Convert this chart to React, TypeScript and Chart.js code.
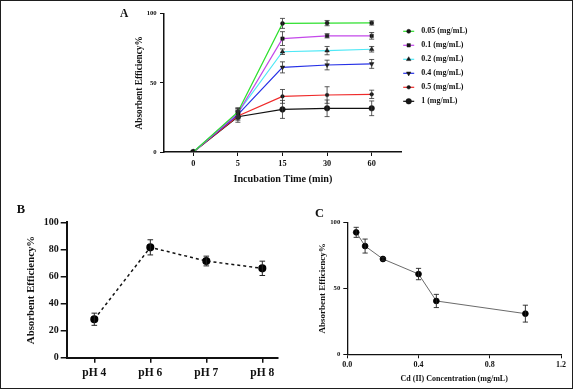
import { useEffect, useRef } from "react";
import { Chart, registerables } from "chart.js";
import { drawPoint } from "chart.js/helpers";

Chart.register(...registerables);

const FONT = "'Liberation Serif', 'Times New Roman', serif";
const PAGE_W = 573;
const PAGE_H = 392;
const INK = "#111111";

// ---------- Panel A : incubation time ----------
const A_TIMES = ["0", "5", "15", "30", "60"];
const A_Y_TICKS = [0, 50, 100];
const A_NAMES = ["0.05 (mg/mL)", "0.1 (mg/mL)", "0.2 (mg/mL)", "0.4 (mg/mL)", "0.5 (mg/mL)", "1 (mg/mL)"];
const A_COLORS = ["#2fe02f", "#c449ea", "#4ee8f6", "#2631e6", "#ef2a2a", "#111111"];
const A_005 = [0, 29, 93, 93.2, 93.3];
const A_01 = [0, 28, 82, 84, 84];
const A_02 = [0, 28.5, 72.5, 73.3, 74.3];
const A_04 = [0, 27, 61.2, 62.9, 63.7];
const A_05 = [0, 26, 40.2, 41.2, 41.7];
const A_1 = [0, 25.5, 30.8, 31.6, 31.6];
const A_005_ERR = [0, 3, 3.6, 1.9, 1.5];
const A_01_ERR = [0, 3, 5, 1.5, 2.4];
const A_02_ERR = [0, 3, 2, 3, 2];
const A_04_ERR = [0, 3, 4, 3.5, 3.2];
const A_05_ERR = [0, 3, 5, 6, 3];
const A_1_ERR = [0, 4, 6.5, 6, 5.3];

// ---------- Panel B : pH ----------
const B_PH = ["pH 4", "pH 6", "pH 7", "pH 8"];
const B_Y_TICKS = [0, 20, 40, 60, 80, 100];
const B_VALUES = [28.4, 81.5, 71.4, 66];
const B_ERR = [4.5, 5.6, 3.6, 5.3];

// ---------- Panel C : Cd(II) concentration ----------
const C_CONC = [0.05, 0.1, 0.2, 0.4, 0.5, 1.0];
const C_VALUES = [92.4, 82, 72.2, 60.8, 40.4, 30.8];
const C_ERR = [3.8, 5.3, 1, 4.3, 5, 6.4];
const C_X_TICKS = [0, 0.4, 0.8, 1.2];
const C_Y_TICKS = [0, 50, 100];

const bold = (size: number) => ({ family: FONT, size, weight: "bold" as const });
const fixedTicks = (values: number[]) => (scale: any) => {
  scale.ticks = values.map((v) => ({ value: v }));
};

const errorBarsPlugin = {
  id: "errorBars",
  afterDatasetsDraw(chart: any) {
    const ctx = chart.ctx;
    const yScale = chart.scales.y;
    chart.data.datasets.forEach((ds: any, di: number) => {
      const errs: number[] | undefined = ds.errors;
      if (!errs) return;
      const meta = chart.getDatasetMeta(di);
      ctx.save();
      ctx.strokeStyle = ds.errorColor || "#222";
      ctx.lineWidth = ds.errorWidth || 0.8;
      meta.data.forEach((pt: any, i: number) => {
        const e = errs[i];
        if (!e) return;
        const v = ds.data[i].y;
        const x = pt.x;
        const y1 = yScale.getPixelForValue(v + e);
        const y2 = yScale.getPixelForValue(v - e);
        const c = ds.capHalf || 3;
        ctx.beginPath();
        ctx.moveTo(x, y1);
        ctx.lineTo(x, y2);
        ctx.moveTo(x - c, y1);
        ctx.lineTo(x + c, y1);
        ctx.moveTo(x - c, y2);
        ctx.lineTo(x + c, y2);
        ctx.stroke();
      });
      ctx.restore();
    });
  },
};

const sideLegendPlugin = {
  id: "sideLegend",
  afterDraw(chart: any, _args: any, opts: any) {
    if (!opts || !opts.display) return;
    const { ctx, chartArea } = chart;
    ctx.save();
    chart.data.datasets.forEach((ds: any, i: number) => {
      const y = chartArea.top + opts.top + i * opts.spacing;
      const x0 = chartArea.right + opts.left;
      ctx.strokeStyle = ds.borderColor;
      ctx.lineWidth = 1.2;
      ctx.beginPath();
      ctx.moveTo(x0, y);
      ctx.lineTo(x0 + opts.lineLen, y);
      ctx.stroke();
      ctx.fillStyle = ds.pointBackgroundColor;
      ctx.strokeStyle = ds.pointBorderColor;
      ctx.lineWidth = ds.pointBorderWidth || 0.5;
      drawPoint(ctx, { pointStyle: ds.pointStyle, radius: ds.pointRadius, rotation: ds.pointRotation || 0, borderWidth: ds.pointBorderWidth || 0.5 } as any, x0 + opts.lineLen / 2, y);
      ctx.fillStyle = INK;
      ctx.font = `bold ${opts.fontSize}px ${FONT}`;
      ctx.textBaseline = "middle";
      ctx.textAlign = "left";
      ctx.fillText(ds.label, x0 + opts.lineLen + opts.gap, y);
    });
    ctx.restore();
  },
};

const panelLabelPlugin = {
  id: "panelLabel",
  afterDraw(chart: any, _args: any, opts: any) {
    if (!opts || !opts.text) return;
    const ctx = chart.ctx;
    ctx.save();
    ctx.fillStyle = INK;
    ctx.font = `bold ${opts.size}px ${FONT}`;
    ctx.textBaseline = "alphabetic";
    ctx.textAlign = "left";
    ctx.fillText(opts.text, opts.x, opts.y);
    ctx.restore();
  },
};

const PLUGINS = [errorBarsPlugin, sideLegendPlugin, panelLabelPlugin];

function configA(): any {
  const series = [A_005, A_01, A_02, A_04, A_05, A_1];
  const errs = [A_005_ERR, A_01_ERR, A_02_ERR, A_04_ERR, A_05_ERR, A_1_ERR];
  const styles = [
    { s: "circle", r: 2, rot: 0 },
    { s: "rect", r: 2.4, rot: 0 },
    { s: "triangle", r: 2.6, rot: 0 },
    { s: "triangle", r: 2.6, rot: 180 },
    { s: "circle", r: 1.8, rot: 0 },
    { s: "circle", r: 2.8, rot: 0 },
  ];
  return {
    type: "line",
    data: {
      datasets: series.map((vals, s) => ({
        label: A_NAMES[s],
        data: vals.map((y, i) => ({ x: i, y })),
        errors: errs[s],
        capHalf: 2.5,
        errorColor: "#333",
        errorWidth: 0.8,
        borderColor: A_COLORS[s],
        backgroundColor: A_COLORS[s],
        borderWidth: 1.2,
        tension: 0,
        pointStyle: styles[s].s,
        pointRadius: styles[s].r,
        pointRotation: styles[s].rot,
        pointBackgroundColor: "#151515",
        pointBorderColor: "#151515",
        pointBorderWidth: 0.5,
      })),
    },
    options: {
      responsive: false,
      animation: false,
      events: [],
      layout: { padding: { left: 124, right: PAGE_W - 401.7, top: 13.7, bottom: PAGE_H - 152 - 36 } },
      plugins: {
        legend: { display: false },
        tooltip: { enabled: false },
        sideLegend: { display: true, top: 17.6, spacing: 14, left: 1.5, lineLen: 11, gap: 7, fontSize: 8 },
        panelLabel: { text: "A", x: 120, y: 17, size: 11.5 },
      },
      scales: {
        x: {
          type: "linear",
          min: -0.657,
          max: 4.673,
          afterBuildTicks: fixedTicks(A_TIMES.map((_, i) => i)),
          afterFit: (s: any) => {
            s.height = 36;
          },
          ticks: { callback: (v: any) => A_TIMES[v], font: bold(8.3), color: INK, padding: 2.4, maxRotation: 0, autoSkip: false },
          grid: { drawOnChartArea: false, drawTicks: true, tickLength: 4, color: INK, lineWidth: 1 },
          border: { display: true, color: INK, width: 1.5 },
          title: { display: true, text: "Incubation Time (min)", font: bold(10.2), color: INK, padding: { top: 0, bottom: 2.2 } },
        },
        y: {
          min: 0,
          max: 100,
          afterBuildTicks: fixedTicks(A_Y_TICKS),
          afterFit: (s: any) => {
            s.width = 40;
          },
          ticks: { font: bold(6.7), color: INK, padding: 3.3 },
          grid: { drawOnChartArea: false, drawTicks: true, tickLength: 4, color: INK, lineWidth: 1 },
          border: { display: true, color: INK, width: 1.5 },
          title: { display: true, text: "Absorbent Efficiency%", font: bold(9.3), color: INK, padding: { top: 10.4, bottom: 0 } },
        },
      },
    },
    plugins: PLUGINS,
  };
}

function configB(): any {
  return {
    type: "line",
    data: {
      datasets: [
        {
          label: "pH",
          data: B_VALUES.map((y, i) => ({ x: i, y })),
          errors: B_ERR,
          capHalf: 2.8,
          errorColor: "#222",
          errorWidth: 1,
          borderColor: INK,
          borderWidth: 1.5,
          borderDash: [3, 3],
          tension: 0,
          pointStyle: "circle",
          pointRadius: 3.3,
          pointBackgroundColor: "#000",
          pointBorderColor: "#000",
        },
      ],
    },
    options: {
      responsive: false,
      animation: false,
      events: [],
      layout: { padding: { left: 16.7, right: PAGE_W - 278, top: 222.3, bottom: PAGE_H - 357.7 - 30 } },
      plugins: {
        legend: { display: false },
        tooltip: { enabled: false },
        panelLabel: { text: "B", x: 16.7, y: 213.3, size: 12.5 },
      },
      scales: {
        x: {
          type: "linear",
          min: -0.493,
          max: 3.28,
          afterBuildTicks: fixedTicks(B_PH.map((_, i) => i)),
          afterFit: (s: any) => {
            s.height = 30;
          },
          ticks: { callback: (v: any) => B_PH[v], font: bold(11.5), color: INK, padding: 3, maxRotation: 0, autoSkip: false },
          grid: { drawOnChartArea: false, drawTicks: true, tickLength: 5, color: INK, lineWidth: 1.5 },
          border: { display: true, color: INK, width: 2 },
        },
        y: {
          min: 0,
          max: 100,
          afterBuildTicks: fixedTicks(B_Y_TICKS),
          afterFit: (s: any) => {
            s.width = 50;
          },
          ticks: { font: bold(10), color: INK, padding: 2 },
          grid: { drawOnChartArea: false, drawTicks: true, tickLength: 6, color: INK, lineWidth: 1.5 },
          border: { display: true, color: INK, width: 2 },
          title: { display: true, text: "Absorbent Efficiency%", font: bold(10.8), color: INK, padding: { top: 8.5, bottom: 0 } },
        },
      },
    },
    plugins: PLUGINS,
  };
}

function configC(): any {
  return {
    type: "line",
    data: {
      datasets: [
        {
          label: "Cd",
          data: C_CONC.map((x, i) => ({ x, y: C_VALUES[i] })),
          errors: C_ERR,
          capHalf: 2.6,
          errorColor: "#222",
          errorWidth: 0.9,
          borderColor: "#444",
          borderWidth: 0.8,
          tension: 0,
          pointStyle: "circle",
          pointRadius: 2.9,
          pointBackgroundColor: "#000",
          pointBorderColor: "#000",
        },
      ],
    },
    options: {
      responsive: false,
      animation: false,
      events: [],
      layout: { padding: { left: 317.3, right: PAGE_W - 561, top: 222.3, bottom: PAGE_H - 354.3 - 30 } },
      plugins: {
        legend: { display: false },
        tooltip: { enabled: false },
        panelLabel: { text: "C", x: 315, y: 217.3, size: 12.5 },
      },
      scales: {
        x: {
          type: "linear",
          min: 0,
          max: 1.2,
          afterBuildTicks: fixedTicks(C_X_TICKS),
          afterFit: (s: any) => {
            s.height = 30;
          },
          ticks: { callback: (v: any) => Number(v).toFixed(1), font: bold(8), color: INK, padding: 1.6, maxRotation: 0, autoSkip: false },
          grid: { drawOnChartArea: false, drawTicks: true, tickLength: 4, color: INK, lineWidth: 1 },
          border: { display: true, color: INK, width: 1.3 },
          title: { display: true, text: "Cd (II) Concentration (mg/mL)", font: bold(8), color: INK, padding: { top: 0, bottom: 0.5 } },
        },
        y: {
          min: 0,
          max: 100,
          afterBuildTicks: fixedTicks(C_Y_TICKS),
          afterFit: (s: any) => {
            s.width = 30;
          },
          ticks: { font: bold(6.7), color: INK, padding: 3 },
          grid: { drawOnChartArea: false, drawTicks: true, tickLength: 4, color: INK, lineWidth: 1 },
          border: { display: true, color: INK, width: 1.3 },
          title: { display: true, text: "Absorbent Efficiency%", font: bold(9), color: INK, padding: { top: 0.3, bottom: 0 } },
        },
      },
    },
    plugins: PLUGINS,
  };
}

export default function App() {
  const refA = useRef<HTMLCanvasElement>(null);
  const refB = useRef<HTMLCanvasElement>(null);
  const refC = useRef<HTMLCanvasElement>(null);

  useEffect(() => {
    document.body.style.margin = "0";
    const charts = [
      new Chart(refA.current as HTMLCanvasElement, configA()),
      new Chart(refB.current as HTMLCanvasElement, configB()),
      new Chart(refC.current as HTMLCanvasElement, configC()),
    ];
    return () => charts.forEach((c) => c.destroy());
  }, []);

  const canvasStyle: any = { position: "absolute", left: 0, top: 0 };
  return (
    <div style={{ position: "relative", width: PAGE_W, height: PAGE_H, background: "#fff", overflow: "hidden" }}>
      <div
        style={{
          position: "absolute",
          left: 0,
          top: 0,
          width: 573,
          height: 389,
          border: "1.5px solid #1e1e1e",
          boxSizing: "border-box",
        }}
      />
      <canvas ref={refA} width={PAGE_W} height={PAGE_H} style={canvasStyle} />
      <canvas ref={refB} width={PAGE_W} height={PAGE_H} style={canvasStyle} />
      <canvas ref={refC} width={PAGE_W} height={PAGE_H} style={canvasStyle} />
    </div>
  );
}
